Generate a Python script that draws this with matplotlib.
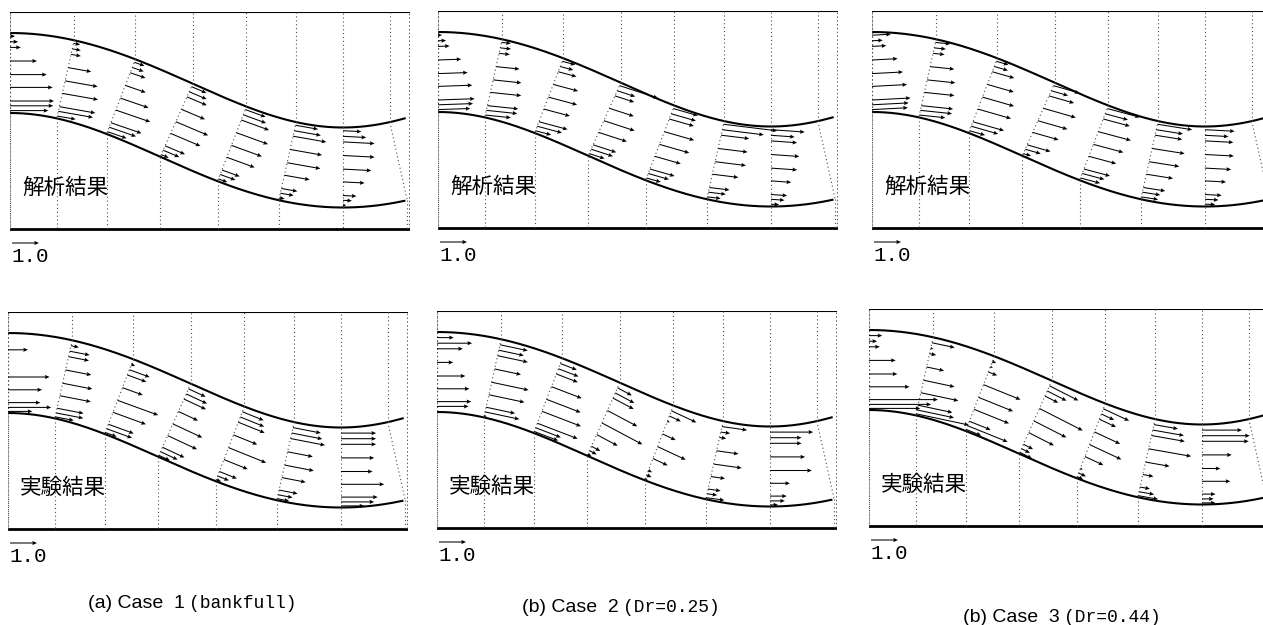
import numpy as np
import matplotlib.pyplot as plt

W_PX, H_PX = 1263, 625

# channel geometry in data units (1 unit = 100 px)
half_wave = 3.33
amp = 0.4725
mid_y = 1.0875
width = 0.80
box_w, box_h = 4.0, 2.17
ref_len = 0.27          # drawn length of a 1.0 vector

section_x = [0.0, 0.555, 1.11, 1.665, 2.22, 2.775, 3.33, 3.885]

# measuring points across each section, 0 = outer (upper) bank, 1 = lower bank
n_ana = [0.04, 0.11, 0.18, 0.35, 0.52, 0.68, 0.85, 0.91, 0.97]
n_exp = [0.07, 0.14, 0.21, 0.38, 0.55, 0.71, 0.87, 0.93, 0.98]

nan = np.nan

# Case 1 (bankfull)
ana1_speed = [
    [0.19, 0.30, 0.40, 1.00, 1.36, 1.58, 1.63, 1.60, 1.42],
    [0.25, 0.32, 0.37, 0.87, 1.22, 1.34, 1.35, 1.30, 0.69],
    [0.40, 0.45, 0.60, 0.80, 1.10, 1.35, 1.20, 1.05, 0.75],
    [0.60, 0.70, 0.80, 0.95, 1.30, 1.20, 0.80, 0.65, 0.30],
    [0.80, 0.90, 1.10, 1.25, 1.20, 1.10, 0.70, 0.60, 0.35],
    [0.85, 1.00, 1.25, 1.20, 1.25, 0.95, 0.60, 0.50, 0.20],
    [0.68, 0.86, 1.17, 1.17, 1.05, 0.80, 0.50, 0.33, 0.12],
]
ana1_angle = [0, -10, -19, -23, -20, -10, -3]

exp1_speed = [
    [nan, nan, 0.74, nan, 1.54, 1.26, 1.20, 1.60, 0.90],
    [0.30, 0.75, 0.77, 0.97, 1.12, 1.17, 1.00, 1.03, 0.70],
    [0.15, 0.80, 0.75, 0.80, 1.60, 1.30, 1.00, 1.00, 0.45],
    [0.70, 0.85, 0.90, 0.80, 1.20, 1.20, 0.90, 0.70, 0.45],
    [0.85, 0.95, 1.05, 0.95, 1.50, 0.95, 0.70, 0.45, 0.20],
    [1.05, 1.15, 1.30, 0.95, 1.10, 0.90, 0.70, 0.55, 0.45],
    [1.30, 1.30, 1.30, 1.23, 1.17, 1.60, 1.36, 1.23, 0.86],
]
exp1_angle = [0, -11, -20, -25, -22, -11, 0]

# Case 2 (Dr=0.25)
ana2_speed = [
    [0.15, 0.30, 0.43, 0.86, 1.10, 1.27, 1.36, 1.30, 1.20],
    [0.35, 0.40, 0.40, 0.87, 1.05, 1.15, 1.15, 1.15, 0.95],
    [0.50, 0.50, 0.70, 0.95, 1.10, 1.00, 1.10, 0.95, 0.60],
    [1.50, 0.70, 0.75, 0.95, 1.20, 1.10, 0.90, 0.85, 0.60],
    [0.95, 0.95, 0.95, 1.15, 1.15, 1.00, 0.95, 0.80, 0.55],
    [2.00, 1.55, 1.05, 1.10, 1.15, 0.97, 0.75, 0.65, 0.50],
    [1.25, 0.88, 0.97, 1.05, 0.97, 0.75, 0.60, 0.50, 0.30],
]
ana2_angle = [2, -6, -15, -18, -16, -7, -4]

exp2_speed = [
    [0.62, 1.30, 0.96, 0.60, 1.05, 1.20, 1.27, 1.17, nan],
    [1.05, 0.95, 1.15, 1.00, 1.40, 1.35, 1.10, 1.30, 0.10],
    [0.65, 0.80, 0.85, 1.20, 1.35, 1.55, 1.60, 1.00, 0.95],
    [0.60, 0.80, 0.87, 1.25, 1.70, 0.88, 0.37, 0.30, 0.15],
    [1.02, 0.47, 0.10, 0.54, 1.15, 0.60, 0.15, 0.20, 0.10],
    [0.94, 0.35, 0.25, 0.82, 1.05, 0.53, 0.47, 0.38, 0.68],
    [1.60, 1.17, 1.17, 1.30, 1.55, 0.74, 0.62, 0.55, 0.30],
]
exp2_angle = [0, -12, -21, -28, -25, -8, 0]

# Case 3 (Dr=0.44)
ana3_speed = [
    [0.70, 0.40, 0.53, 0.95, 1.15, 1.30, 1.43, 1.36, 1.33],
    [0.55, 0.43, 0.43, 0.90, 1.05, 1.12, 1.18, 1.18, 0.97],
    [0.47, 0.53, 0.85, 1.02, 1.22, 1.28, 1.20, 1.04, 0.60],
    [1.00, 0.65, 0.97, 1.25, 1.14, 1.00, 0.90, 0.60, 0.30],
    [1.25, 0.87, 1.02, 1.25, 1.15, 1.05, 1.00, 0.85, 0.75],
    [1.30, 1.00, 1.02, 1.22, 1.13, 1.00, 0.82, 0.67, 0.63],
    [1.10, 0.87, 1.05, 1.07, 0.97, 0.78, 0.62, 0.50, 0.38],
]
ana3_angle = [3, -6, -16, -16, -15, -9, -3]

exp3_speed = [
    [0.49, 0.30, 0.40, 0.99, 1.05, 1.50, 2.55, 2.30, 1.90],
    [0.86, 0.10, 0.25, 0.66, 1.17, 1.42, 1.30, 1.40, 2.00],
    [0.15, 0.10, 0.35, 1.48, 1.38, 1.40, 0.85, 1.60, 0.60],
    [1.20, 0.80, 0.55, 1.80, 1.35, 1.05, 0.40, 0.35, 0.50],
    [1.05, 0.52, 0.68, 1.05, 1.30, 0.75, 0.10, 0.30, 0.25],
    [0.90, 1.17, 1.25, 1.60, 0.90, 0.40, 0.37, 0.57, 0.75],
    [1.48, 1.77, 1.73, 1.10, 0.68, 1.05, 0.50, 0.43, 0.50],
]
exp3_angle = [0, -12, -22, -27, -25, -10, 0]

labels = ["解析結果", "実験結果"]
case_heads = ["(a) Case  1", "(b) Case  2", "(b) Case  3"]
case_tails = ["(bankfull)", "(Dr=0.25)", "(Dr=0.44)"]

jp_font = ["Noto Sans CJK JP", "DejaVu Sans"]
dot = dict(color="0.3", lw=0.8, ls=(0, (1, 2.5)))
qkw = dict(angles="xy", scale_units="xy", scale=1 / ref_len, units="width",
           width=0.0026, headwidth=4, headlength=4.5, headaxislength=4,
           color="black", zorder=4)


def centre(x):
    return mid_y + amp * np.cos(np.pi * x / half_wave)


def bank_point(x, offset):
    # point at distance offset from the centreline, along the section normal
    slope = -amp * np.pi / half_wave * np.sin(np.pi * x / half_wave)
    nrm = np.hypot(1.0, slope)
    return x - offset * slope / nrm, centre(x) + offset / nrm


def draw_panel(fig, left, top, speeds, angles, n_pts, label):
    ax_h = 2.77
    ax = fig.add_axes([left / W_PX, 1 - (top + ax_h * 100) / H_PX,
                       400 / W_PX, ax_h * 100 / H_PX])
    ax.set_xlim(0, box_w)
    ax.set_ylim(box_h - ax_h, box_h)
    ax.axis("off")

    ax.plot([0, box_w], [box_h, box_h], color="black", lw=1.5)
    ax.plot([0, box_w], [0, 0], color="black", lw=2.0)
    ax.plot([0, 0], [0, box_h], **dot)
    ax.plot([box_w, box_w], [0, box_h], color="0.2", lw=1.1, ls=(0, (1, 1.5)))

    t = np.linspace(-0.5, 4.5, 900)
    for off in (width / 2, -width / 2):
        bx, by = bank_point(t, off)
        keep = (bx >= 0) & (bx <= 3.95)
        ax.plot(bx[keep], by[keep], color="black", lw=1.5)

    for xs in section_x:
        tx, ty = bank_point(xs, width / 2)
        bx, by = bank_point(xs, -width / 2)
        ax.plot([tx, tx], [ty, box_h], **dot)
        ax.plot([tx, bx], [ty, by], **dot)
        ax.plot([bx, bx], [by, 0], **dot)

    X, Y, U, V = [], [], [], []
    for xs, spd, ang in zip(section_x, speeds, angles):
        a = np.radians(ang)
        for f, s in zip(n_pts, spd):
            if np.isnan(s):
                continue
            px, py = bank_point(xs, width * (0.5 - f))
            X.append(px)
            Y.append(py)
            U.append(s * np.cos(a))
            V.append(s * np.sin(a))
    ax.quiver(X, Y, U, V, **qkw)

    # 1.0 reference vector
    ax.quiver([0.02], [-0.14], [1.0], [0.0], **qkw)
    ax.text(0.01, -0.275, "1.0", family="Liberation Mono", fontsize=15,
            ha="left", va="center")
    ax.text(0.12, 0.41, label, family=jp_font, fontsize=15.5,
            ha="left", va="center")


fig = plt.figure(figsize=(W_PX / 100, H_PX / 100), dpi=100)

draw_panel(fig, 10, 12, ana1_speed, ana1_angle, n_ana, labels[0])
draw_panel(fig, 8, 312, exp1_speed, exp1_angle, n_exp, labels[1])
draw_panel(fig, 438, 11, ana2_speed, ana2_angle, n_ana, labels[0])
draw_panel(fig, 437, 311, exp2_speed, exp2_angle, n_exp, labels[1])
draw_panel(fig, 872, 11, ana3_speed, ana3_angle, n_ana, labels[0])
draw_panel(fig, 869, 309, exp3_speed, exp3_angle, n_exp, labels[1])

# captions: sans part, then the parenthesised part in a fixed-width serif
cap_x = [185, 619, 1060]
cap_y = [603, 607, 618]
for head, tail, cx, cy in zip(case_heads, case_tails, cap_x, cap_y):
    fig.text(cx / W_PX, 1 - cy / H_PX, head, family="Liberation Sans",
             fontsize=14, ha="right", va="center")
    fig.text((cx + 4) / W_PX, 1 - cy / H_PX, tail, family="Liberation Mono",
             fontsize=13, ha="left", va="center")

fig.savefig("out.png", dpi=100, facecolor="white")
